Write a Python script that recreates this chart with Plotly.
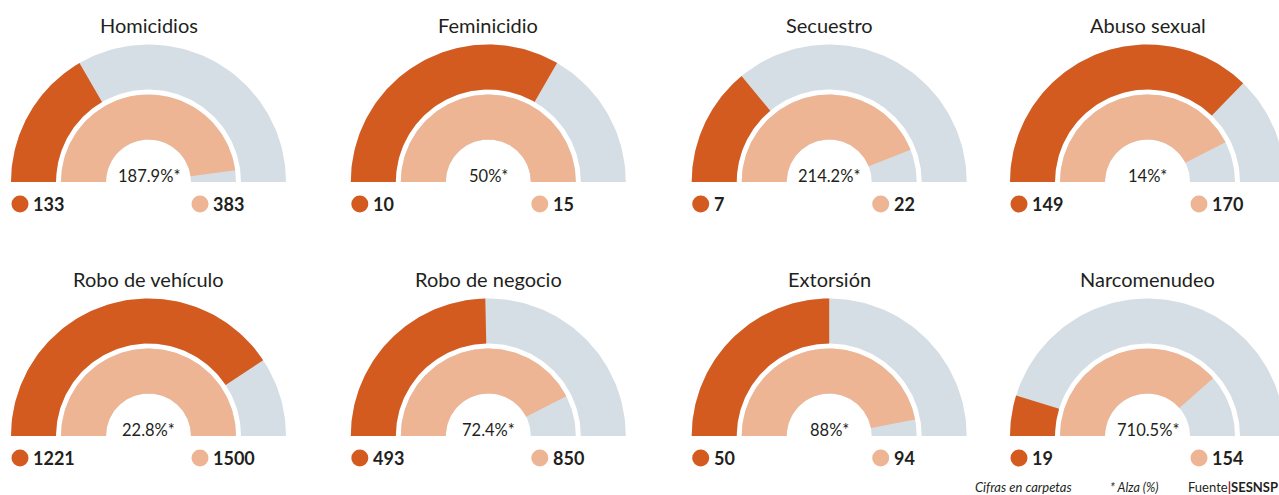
import numpy as np
import plotly.graph_objects as go

# ---- data ----
titles = ["Homicidios", "Feminicidio", "Secuestro", "Abuso sexual",
          "Robo de vehículo", "Robo de negocio", "Extorsión", "Narcomenudeo"]
prev_values = [133, 10, 7, 149, 1221, 493, 50, 19]
curr_values = [383, 15, 22, 170, 1500, 850, 94, 154]
change_labels = ["187.9%*", "50%*", "214.2%*", "14%*", "22.8%*", "72.4%*", "88%*", "710.5%*"]
scale_max = [400, 15, 25, 200, 1500, 1000, 100, 200]

# ---- style / layout ----
DARK = "#D35B20"
LIGHT = "#EDB593"
GRAY = "#D5DEE4"
TXT = "#231F20"
W, H = 1279, 495
col_cx = [148.5, 488.3, 829.2, 1147.5]
row_base = [182, 436]
R_OUT, R_OUT_IN = 137.5, 92.5
R_IN, R_IN_IN = 87.5, 42.5
FONT = "Lato"


def wedge(cx, cy, r0, r1, f0, f1, n=120):
    """Ring segment from fraction f0 to f1 of a half circle (left -> over top -> right)."""
    t = np.linspace(np.pi * f0, np.pi * f1, n)
    xo = cx - r1 * np.cos(t)
    yo = cy - r1 * np.sin(t)
    xi = cx - r0 * np.cos(t[::-1])
    yi = cy - r0 * np.sin(t[::-1])
    return np.concatenate([xo, xi, xo[:1]]), np.concatenate([yo, yi, yo[:1]])


fig = go.Figure()
ann = []


def add_poly(x, y, color):
    fig.add_trace(go.Scatter(x=x, y=y, mode="lines", fill="toself", fillcolor=color,
                             line=dict(width=0, color=color), hoverinfo="skip",
                             showlegend=False))


for i, title in enumerate(titles):
    cx = col_cx[i % 4]
    cy = row_base[i // 4]
    f_prev = prev_values[i] / scale_max[i]
    f_curr = curr_values[i] / scale_max[i]
    # outer ring
    add_poly(*wedge(cx, cy, R_OUT_IN, R_OUT, 0, 1), GRAY)
    add_poly(*wedge(cx, cy, R_OUT_IN, R_OUT, 0, f_prev), DARK)
    # inner ring
    add_poly(*wedge(cx, cy, R_IN_IN, R_IN, 0, 1), GRAY)
    add_poly(*wedge(cx, cy, R_IN_IN, R_IN, 0, f_curr), LIGHT)
    # dots
    fig.add_trace(go.Scatter(x=[cx - 128.5, cx + 51.5], y=[cy + 22, cy + 22], mode="markers",
                             marker=dict(size=17, color=[DARK, LIGHT], line=dict(width=0)),
                             hoverinfo="skip", showlegend=False))
    ann.append(dict(x=cx, y=cy - 157, text=title, showarrow=False, xref="x", yref="y",
                    font=dict(family=FONT, size=20, color=TXT), xanchor="center", yanchor="middle"))
    ann.append(dict(x=cx, y=cy - 6, text=change_labels[i], showarrow=False, xref="x", yref="y",
                    font=dict(family=FONT, size=16.5, color=TXT), xanchor="center", yanchor="middle"))
    ann.append(dict(x=cx - 128.5 + 11, y=cy + 22, text=f"<b>{prev_values[i]}</b>", showarrow=False,
                    xref="x", yref="y", font=dict(family=FONT, size=18, color=TXT),
                    xanchor="left", yanchor="middle"))
    ann.append(dict(x=cx + 51.5 + 11, y=cy + 22, text=f"<b>{curr_values[i]}</b>", showarrow=False,
                    xref="x", yref="y", font=dict(family=FONT, size=18, color=TXT),
                    xanchor="left", yanchor="middle"))

# footer
ann.append(dict(x=973, y=487, text="<i>Cifras en carpetas</i>", showarrow=False, xref="x", yref="y",
                font=dict(family=FONT, size=13, color=TXT), xanchor="left", yanchor="middle"))
ann.append(dict(x=1108, y=487, text="<i>* Alza (%)</i>", showarrow=False, xref="x", yref="y",
                font=dict(family=FONT, size=12.5, color=TXT), xanchor="left", yanchor="middle"))
ann.append(dict(x=1186, y=487,
                text="Fuente<span style='color:#8B1538'><b>|</b></span><b>SESNSP</b>",
                showarrow=False, xref="x", yref="y",
                font=dict(family=FONT, size=13, color=TXT), xanchor="left", yanchor="middle"))

fig.update_layout(
    width=W, height=H, margin=dict(l=0, r=0, t=0, b=0),
    paper_bgcolor="white", plot_bgcolor="white",
    xaxis=dict(range=[0, W], visible=False, fixedrange=True),
    yaxis=dict(range=[H, 0], visible=False, fixedrange=True),
    annotations=ann, showlegend=False,
)
fig.write_html("out.html", config={"displayModeBar": False},
               post_script="document.body.style.margin='0';document.body.style.overflow='hidden';")
